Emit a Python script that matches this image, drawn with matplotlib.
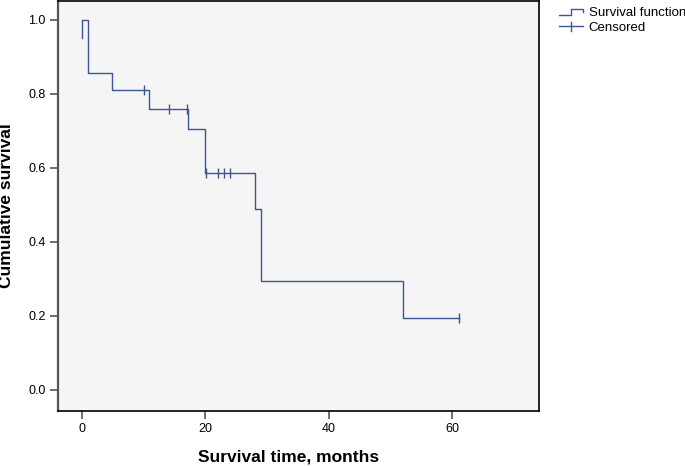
import numpy as np
import matplotlib
matplotlib.use('Agg')
from matplotlib import pyplot as plt
from matplotlib.lines import Line2D
from matplotlib.legend_handler import HandlerBase

plt.rcParams['font.family'] = ['Liberation Sans', 'DejaVu Sans']

# Kaplan-Meier steps (time in months, survival after the step)
step_times = [0, 0, 1, 5, 11, 17.2, 20, 28, 29, 52, 61]
step_surv = [0.952, 1.0, 0.857, 0.810, 0.759, 0.705, 0.586, 0.488, 0.293, 0.195, 0.195]
censor_times = [10.1, 14.1, 17.0, 20.1, 22.1, 23.1, 24.0, 61.1]

xticks = [0, 20, 40, 60]
yticks = [0.0, 0.2, 0.4, 0.6, 0.8, 1.0]

line_color = '#3d5590'


def surv_at(t):
    idx = np.searchsorted(step_times, t, side='right') - 1
    return step_surv[idx]


class StepHandler(HandlerBase):
    def create_artists(self, legend, orig_handle, xdescent, ydescent,
                       width, height, fontsize, trans):
        xs = np.array([0, 0.5, 0.5, 1.0, 1.0]) * width - xdescent
        ys = np.array([0.15, 0.15, 0.85, 0.85, 0.5]) * height - ydescent
        ln = Line2D(xs, ys, color=line_color, lw=1.0, transform=trans)
        return [ln]


class CensorHandler(HandlerBase):
    def create_artists(self, legend, orig_handle, xdescent, ydescent,
                       width, height, fontsize, trans):
        mid = 0.5 * height - ydescent
        h = Line2D([-xdescent, width - xdescent], [mid, mid], color=line_color,
                   lw=1.0, transform=trans)
        v = Line2D([0.5 * width - xdescent] * 2, [mid - 0.55 * height, mid + 0.55 * height],
                   color=line_color, lw=1.0, transform=trans)
        return [h, v]


fig = plt.figure(figsize=(6.85, 4.66), dpi=100)
ax = fig.add_axes([0.0847, 0.119, 0.702, 0.879])
ax.set_facecolor('#f5f5f5')

ax.step(step_times, step_surv, where='post', color=line_color, lw=1.0)
ax.plot(censor_times, [surv_at(t) for t in censor_times], ls='none', marker='|',
        markersize=7.5, mew=1.0, color=line_color)

ax.set_xlim(-3.8, 74.0)
ax.set_ylim(-0.056, 1.051)
ax.set_xticks(xticks)
ax.set_yticks(yticks)
ax.set_xticklabels([str(x) for x in xticks])
ax.set_yticklabels(['%.1f' % y for y in yticks])
ax.tick_params(axis='both', direction='out', length=6, width=1.2, color='#555555',
               labelsize=9, pad=3)

for side in ['top', 'right', 'bottom']:
    ax.spines[side].set_color('black')
    ax.spines[side].set_linewidth(1.2)
ax.spines['left'].set_color('#555555')
ax.spines['left'].set_linewidth(1.6)

ax.set_xlabel('Survival time, months', fontsize=12.5, fontweight='bold')
ax.xaxis.set_label_coords(0.48, -0.094)
ax.set_ylabel('Cumulative survival', fontsize=12.5, fontweight='bold')
ax.yaxis.set_label_coords(-0.091, 0.5)

h1 = Line2D([], [])
h2 = Line2D([], [])
fig.legend([h1, h2], ['Survival function', 'Censored'],
           handler_map={h1: StepHandler(), h2: CensorHandler()},
           loc='upper left', bbox_to_anchor=(0.816, 0.984), frameon=False,
           fontsize=9.5, handlelength=1.8, handleheight=0.6, handletextpad=0.45,
           labelspacing=0.2, borderaxespad=0.0, borderpad=0.0)

fig.savefig('out.png', dpi=100)
